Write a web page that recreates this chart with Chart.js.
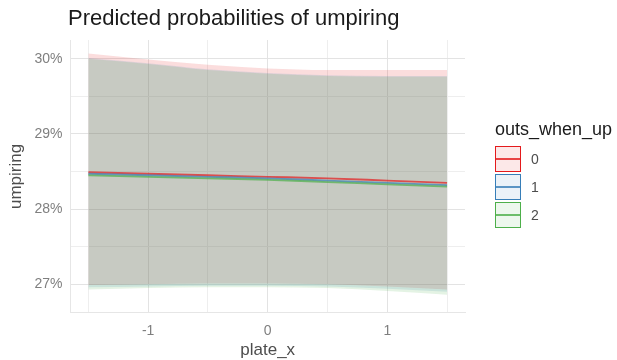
<!DOCTYPE html>
<html>
<head>
<meta charset="utf-8">
<script src="https://cdn.jsdelivr.net/npm/chart.js@4/dist/chart.umd.min.js"></script>
<style>
  html, body { margin: 0; padding: 0; background: #fff; }
  #wrap { position: relative; width: 617px; height: 360px; font-family: "Liberation Sans", Arial, sans-serif; }
  #title { position: absolute; left: 68px; top: 5px; font-size: 22px; color: #1a1a1a; white-space: nowrap; }
  #legend { position: absolute; left: 495px; top: 119px; color: #1a1a1a; }
  #legend .ttl { font-size: 18px; margin-bottom: 5px; }
  #legend .row { display: flex; align-items: center; height: 28px; }
  #legend .key { position: relative; width: 24px; height: 24px; border: 1px solid; box-sizing: content-box; }
  #legend .key span { position: absolute; left: 0; right: 0; top: 11px; height: 2px; }
  #legend .lab { margin-left: 10px; font-size: 14px; color: #4d4d4d; }
</style>
</head>
<body>
<div id="wrap">
  <div id="title">Predicted probabilities of umpiring</div>
  <canvas id="chart1" width="617" height="360"></canvas>
  <div id="legend"></div>
</div>
<script>
// plate_x positions where predictions were evaluated
var plateX = [-1.5, -1, -0.5, 0, 0.5, 1, 1.5];

// outs_when_up groups and their colours
var groups = ['0', '1', '2'];
var groupColors = ['#E41A1C', '#377EB8', '#4DAF4A'];

// predicted probability (%) per group
var predicted = [
    [28.49, 28.47, 28.45, 28.43, 28.41, 28.38, 28.35],
    [28.47, 28.45, 28.43, 28.41, 28.38, 28.35, 28.32],
    [28.45, 28.43, 28.41, 28.39, 28.36, 28.33, 28.30]
];

// confidence band, upper and lower (%)
var upperCI = [
    [30.07, 29.99, 29.92, 29.87, 29.85, 29.85, 29.85],
    [30.01, 29.94, 29.86, 29.81, 29.78, 29.77, 29.77],
    [30.00, 29.93, 29.85, 29.80, 29.77, 29.76, 29.76]
];
var lowerCI = [
    [26.99, 27.00, 27.01, 27.01, 27.00, 26.97, 26.93],
    [26.96, 26.97, 26.98, 26.98, 26.97, 26.94, 26.90],
    [26.93, 26.95, 26.96, 26.96, 26.95, 26.91, 26.86]
];

var xTicks = [-1.5, -1, -0.5, 0, 0.5, 1, 1.5];
var yTicks = [27, 27.5, 28, 28.5, 29, 29.5, 30];

function rgba(hex, a) {
    var n = parseInt(hex.slice(1), 16);
    return 'rgba(' + (n >> 16) + ',' + ((n >> 8) & 255) + ',' + (n & 255) + ',' + a + ')';
}

function toPoints(values) {
    return values.map(function (v, i) { return { x: plateX[i], y: v }; });
}

function isWhole(v) {
    return Math.abs(v - Math.round(v)) < 1e-6;
}

var datasets = [];

// ribbons: upper filled down to the following lower dataset,
// later groups painted over earlier ones
groups.forEach(function (g, i) {
    datasets.push({
        label: 'upper ' + g,
        data: toPoints(upperCI[i]),
        borderWidth: 0,
        pointRadius: 0,
        backgroundColor: rgba(groupColors[i], 0.15),
        fill: '+1',
        order: 10 - i,
        tension: 0.4,
        cubicInterpolationMode: 'monotone'
    });
    datasets.push({
        label: 'lower ' + g,
        data: toPoints(lowerCI[i]),
        borderWidth: 0,
        pointRadius: 0,
        fill: false,
        order: 10 - i,
        tension: 0.4,
        cubicInterpolationMode: 'monotone'
    });
});

// predicted lines on top
groups.forEach(function (g, i) {
    datasets.push({
        label: g,
        data: toPoints(predicted[i]),
        borderColor: rgba(groupColors[i], 0.7),
        borderWidth: 1.8,
        pointRadius: 0,
        fill: false,
        order: 3 - i,
        tension: 0.4,
        cubicInterpolationMode: 'monotone'
    });
});

var ctx = document.getElementById('chart1').getContext('2d');
var myChart = new Chart(ctx, {
    type: 'line',
    data: { datasets: datasets },
    options: {
        responsive: false,
        animation: false,
        layout: { padding: { top: 40, right: 152, bottom: -1, left: 6 } },
        plugins: {
            legend: { display: false },
            tooltip: { enabled: false }
        },
        scales: {
            x: {
                type: 'linear',
                min: -1.65,
                max: 1.65,
                afterBuildTicks: function (scale) {
                    scale.ticks = xTicks.map(function (v) { return { value: v }; });
                },
                ticks: {
                    autoSkip: false,
                    maxRotation: 0,
                    color: '#7f7f7f',
                    font: { family: '"Liberation Sans", Arial, sans-serif', size: 14 },
                    padding: 10,
                    callback: function (value) {
                        return isWhole(value) ? String(Math.round(value)) : '';
                    }
                },
                grid: {
                    color: function (c) { return isWhole(c.tick.value) ? '#e3e3e3' : '#eeeeee'; },
                    lineWidth: 1,
                    drawTicks: false
                },
                border: { display: true, color: '#e6e6e6' },
                title: {
                    display: true,
                    text: 'plate_x',
                    color: '#4d4d4d',
                    font: { family: '"Liberation Sans", Arial, sans-serif', size: 17 },
                    padding: { top: -9, bottom: 0 }
                }
            },
            y: {
                type: 'linear',
                min: 26.62,
                max: 30.25,
                afterBuildTicks: function (scale) {
                    scale.ticks = yTicks.map(function (v) { return { value: v }; });
                },
                ticks: {
                    autoSkip: false,
                    color: '#7f7f7f',
                    font: { family: '"Liberation Sans", Arial, sans-serif', size: 14 },
                    padding: 8,
                    callback: function (value) {
                        return isWhole(value) ? Math.round(value) + '%' : '';
                    }
                },
                grid: {
                    color: function (c) { return isWhole(c.tick.value) ? '#e3e3e3' : '#eeeeee'; },
                    lineWidth: 1,
                    drawTicks: false
                },
                border: { display: true, color: '#e6e6e6' },
                title: {
                    display: true,
                    text: 'umpiring',
                    color: '#4d4d4d',
                    font: { family: '"Liberation Sans", Arial, sans-serif', size: 17 },
                    padding: { top: 0, bottom: 0 }
                }
            }
        }
    }
});

// legend for outs_when_up
var legend = document.getElementById('legend');
var html = '<div class="ttl">outs_when_up</div>';
groups.forEach(function (g, i) {
    html += '<div class="row"><div class="key" style="border-color:' + groupColors[i] +
        ';background:' + rgba(groupColors[i], 0.1) + '"><span style="background:' +
        rgba(groupColors[i], 0.8) + '"></span></div><div class="lab">' + g + '</div></div>';
});
legend.innerHTML = html;
</script>
</body>
</html>
